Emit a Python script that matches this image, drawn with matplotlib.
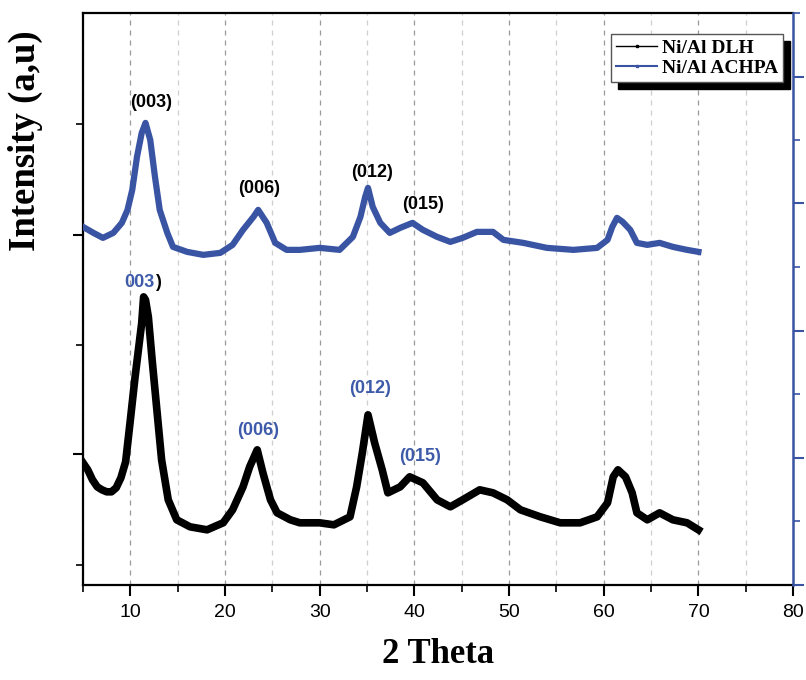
import matplotlib
matplotlib.use("Agg")
import matplotlib.pyplot as plt
from matplotlib.lines import Line2D
from matplotlib.ticker import MultipleLocator, FixedLocator, NullFormatter

# ======================================================
# DATA (2 theta in degrees, intensity in a.u.)
# ======================================================
two_theta_dlh = [5.0, 5.5, 6.0, 6.5, 7.0, 7.5, 8.0, 8.5, 9.0, 9.5, 10.0, 10.5,
                 11.2, 11.4, 11.6, 11.9, 12.3, 12.8, 13.3, 14.0, 14.9, 16.3,
                 18.1, 19.8, 20.8, 21.9, 22.6, 23.4, 24.0, 24.8, 25.5, 26.9,
                 27.9, 30.0, 31.5, 33.2, 33.9, 34.5, 35.1, 35.8, 36.6, 37.2,
                 38.5, 39.5, 40.9, 42.4, 43.8, 45.1, 46.9, 48.3, 49.8, 51.2,
                 53.3, 55.4, 57.5, 59.3, 60.4, 61.0, 61.5, 62.3, 63.0, 63.5,
                 64.6, 65.9, 67.3, 68.8, 70.0]
intensity_dlh = [102, 95, 85, 78, 75, 73, 73, 77, 87, 103, 145, 188,
                 242, 268, 265, 248, 205, 155, 105, 65, 45, 38,
                 35, 42, 55, 78, 98, 115, 92, 65, 52, 45,
                 42, 42, 40, 48, 78, 112, 150, 122, 95, 72,
                 78, 88, 82, 65, 58, 65, 75, 72, 65, 55,
                 48, 42, 42, 48, 62, 88, 95, 88, 72, 52,
                 45, 52, 45, 42, 35]

two_theta_achpa = [5.0, 6.1, 7.1, 8.2, 9.1, 9.7, 10.2, 10.7, 11.2, 11.6, 12.1,
                   12.6, 13.1, 13.9, 14.5, 16.0, 17.7, 19.5, 20.8, 21.9, 23.0,
                   23.5, 24.4, 25.3, 26.5, 27.9, 30.0, 32.1, 33.5, 34.3, 34.8,
                   35.1, 35.6, 36.4, 37.4, 38.5, 39.8, 40.9, 42.4, 43.8, 45.1,
                   46.6, 48.3, 49.4, 51.5, 54.0, 56.8, 59.3, 60.4, 60.9, 61.4,
                   62.0, 62.8, 63.5, 64.6, 65.9, 67.3, 68.8, 70.0]
intensity_achpa = [338, 332, 327, 332, 342, 355, 375, 408, 432, 442, 425,
                   388, 355, 332, 318, 313, 310, 312, 320, 335, 348,
                   355, 342, 322, 315, 315, 317, 315, 328, 348, 368,
                   377, 358, 342, 332, 337, 342, 335, 328, 323, 327,
                   333, 333, 325, 322, 317, 315, 317, 325, 338, 347,
                   343, 335, 322, 320, 322, 318, 315, 313]

series_labels = ["Ni/Al DLH", "Ni/Al ACHPA"]

# (hkl) labels: text, 2theta, intensity
peaks_achpa = [("(003)", 12.2, 462), ("(006)", 23.6, 376),
               ("(012)", 35.5, 392), ("(015)", 40.9, 360)]
peaks_dlh = [("(006)", 23.5, 134), ("(012)", 35.3, 176), ("(015)", 40.6, 108)]

# ======================================================
# STYLE
# ======================================================
black = "#000000"
blue = "#3a54a4"
blue_text = "#3e5ba9"
serif = ["Liberation Serif", "DejaVu Serif"]
sans = ["Liberation Sans", "DejaVu Sans"]

fig = plt.figure(figsize=(8.06, 6.8), dpi=100)
ax = fig.add_axes([0.103, 0.140, 0.881, 0.841])

ax.plot(two_theta_dlh, intensity_dlh, color=black, lw=5.5,
        solid_joinstyle="round", zorder=3)
ax.plot(two_theta_achpa, intensity_achpa, color=blue, lw=4.5,
        solid_joinstyle="round", zorder=3)

ax.set_xlim(5, 80)
ax.set_ylim(-20, 552)

# ======================================================
# AXES / TICKS
# ======================================================
ax.xaxis.set_major_locator(MultipleLocator(10))
ax.xaxis.set_minor_locator(FixedLocator([5, 15, 25, 35, 45, 55, 65, 75]))
ax.yaxis.set_major_locator(FixedLocator([111, 330]))
ax.yaxis.set_minor_locator(FixedLocator([0, 220, 441]))
ax.yaxis.set_major_formatter(NullFormatter())

ax.tick_params(axis="x", which="major", direction="out", length=8, width=1.5,
               labelsize=14, pad=6)
ax.tick_params(axis="x", which="minor", direction="out", length=5, width=1.2)
ax.tick_params(axis="y", which="major", direction="out", length=7, width=1.5,
               right=False)
ax.tick_params(axis="y", which="minor", direction="out", length=5, width=1.2,
               right=False)
for lab in ax.get_xticklabels():
    lab.set_family(sans)

for s in ["left", "bottom", "top"]:
    ax.spines[s].set_linewidth(1.6)
ax.spines["right"].set_visible(False)

ax.grid(which="major", axis="x", color="#9a9a9a", linestyle=(0, (4, 4)), lw=0.9)
ax.grid(which="minor", axis="x", color="#cfcfcf", linestyle=(0, (4, 4)), lw=0.9)
ax.set_axisbelow(True)

# right axis (blue)
ax2 = ax.twinx()
ax2.set_ylim(ax.get_ylim())
ax2.yaxis.set_major_locator(FixedLocator([488, 362, 234, 107, -20]))
ax2.yaxis.set_minor_locator(FixedLocator([552, 425, 298, 171, 44]))
ax2.yaxis.set_major_formatter(NullFormatter())
ax2.tick_params(axis="y", which="major", direction="out", length=8, width=1.5,
                colors=blue)
ax2.tick_params(axis="y", which="minor", direction="out", length=5, width=1.2,
                colors=blue)
for s in ["left", "bottom", "top"]:
    ax2.spines[s].set_visible(False)
ax2.spines["right"].set_color(blue)
ax2.spines["right"].set_linewidth(1.8)

# ======================================================
# LABELS
# ======================================================
ax.set_xlabel("2 Theta", fontsize=25, fontweight="bold", family=serif,
              labelpad=12)
ax.set_ylabel("Intensity (a,u)", fontsize=26.5, fontweight="bold", family=serif)
ax.yaxis.set_label_coords(-0.056, 0.776)

for txt, x, y in peaks_achpa:
    ax.text(x, y, txt, color=black, fontsize=13, fontweight="bold",
            family=sans, ha="center", va="center", zorder=4)
for txt, x, y in peaks_dlh:
    ax.text(x, y, txt, color=blue_text, fontsize=13, fontweight="bold",
            family=sans, ha="center", va="center", zorder=4)
# (003) on the DLH curve: "003" blue, closing paren black
t = ax.text(10.9, 282, "003", color=blue_text, fontsize=13, fontweight="bold",
            family=sans, ha="center", va="center", zorder=4)
ax.annotate(")", xy=(1, 0.5), xycoords=t, xytext=(0.5, 0),
            textcoords="offset points", color=black, fontsize=13,
            fontweight="bold", family=sans, ha="left", va="center")

# ======================================================
# LEGEND
# ======================================================
handles = [
    Line2D([], [], color=black, lw=1.0, marker="s", markersize=2),
    Line2D([], [], color=blue, lw=1.5, marker="s", markersize=2),
]
leg = ax2.legend(handles, series_labels, loc="upper right",
                 bbox_to_anchor=(0.986, 0.963), fancybox=False,
                 edgecolor="#555555", framealpha=1,
                 shadow={"ox": 5.0, "oy": -5.0, "facecolor": "black",
                         "edgecolor": "black", "alpha": 1},
                 prop={"family": serif, "weight": "bold", "size": 14},
                 handlelength=2.1, handletextpad=0.25, borderpad=0.25,
                 labelspacing=0.15, borderaxespad=0)
leg.get_frame().set_linewidth(1.0)

fig.savefig("out.png", dpi=100)
plt.close(fig)
